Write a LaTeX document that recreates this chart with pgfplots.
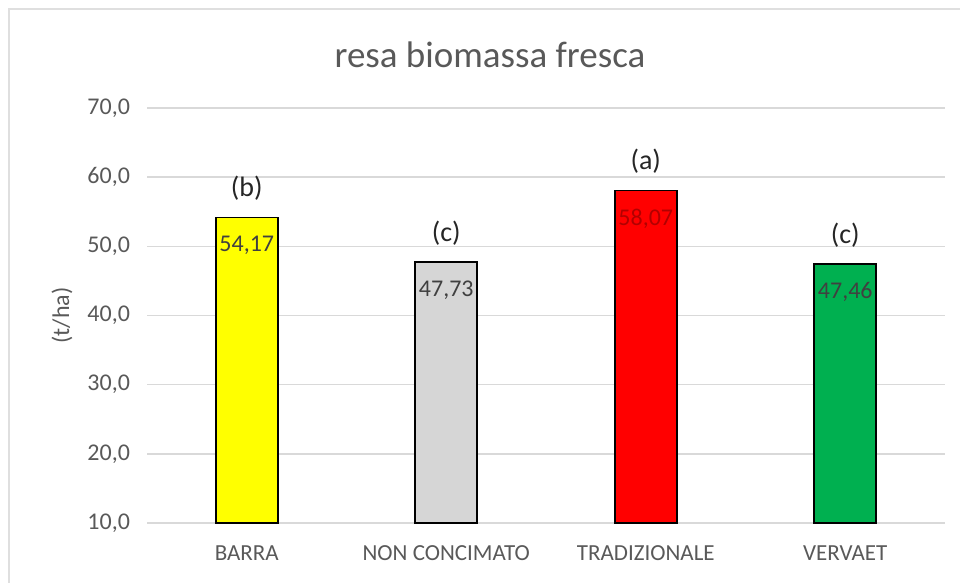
\documentclass[border=0pt]{standalone}
\usepackage{fontspec}
\setmainfont{Carlito}
\usepackage{pgfplots}
\pgfplotsset{compat=1.18}
\definecolor{txt}{HTML}{595959}
\definecolor{gridc}{HTML}{D9D9D9}
\definecolor{bgreen}{HTML}{00B050}
\definecolor{bgray}{HTML}{D6D6D6}
\definecolor{byellow}{HTML}{FFFF00}
\definecolor{bred}{HTML}{FF0000}
\definecolor{lab}{HTML}{404040}
\begin{document}
\begin{tikzpicture}
\useasboundingbox (0,0) rectangle (480pt,291.5pt);
\draw[gray!25, line width=1.2pt] (4.5pt,0) -- (4.5pt,287pt) -- (480pt,287pt);
\node[font=\fontsize{18.5}{22}\selectfont, text=txt] at (245pt,264pt) {resa biomassa fresca};
\begin{axis}[
  at={(73.5pt,30pt)}, anchor=south west, scale only axis,
  width=399pt, height=207.5pt,
  xmin=-0.5, xmax=3.5, ymin=10, ymax=70, ytick={10,20,...,70},
  xtick={0,1,2,3}, xticklabels={BARRA,NON CONCIMATO,TRADIZIONALE,VERVAET},
  ymajorgrids, major grid style={gridc, line width=0.7pt},
  axis line style={draw=none}, major tick length=0pt,
  yticklabel style={text=txt, font=\fontsize{12}{14}\selectfont, xshift=-5pt},
  xticklabel style={text=txt, font=\fontsize{11.5}{14}\selectfont, yshift=-8pt},
  /pgf/number format/.cd, assume math mode=true, use comma, fixed, fixed zerofill, precision=1,
  /pgfplots/.cd,
  ylabel={(t/ha)},
  ylabel style={text=txt, font=\fontsize{12}{14}\selectfont, at={(axis description cs:-0.1065,0.5)}, anchor=center},
  ybar, bar width=31pt,
  every node near coord/.append style={anchor=center, yshift=-14pt, text=lab, font=\fontsize{12}{14}\selectfont},
  clip=false,
]
\addplot[fill=byellow, draw=black, line width=0.9pt, bar shift=0pt, nodes near coords, point meta=explicit symbolic] coordinates {(0,54.17) [54,17]};
\addplot[fill=bgray, draw=black, line width=0.9pt, bar shift=0pt, nodes near coords, point meta=explicit symbolic] coordinates {(1,47.73) [47,73]};
\addplot[fill=bred, draw=black, line width=0.9pt, bar shift=0pt, nodes near coords, point meta=explicit symbolic, every node near coord/.append style={text=red!70!black}] coordinates {(2,58.07) [58,07]};
\addplot[fill=bgreen, draw=black, line width=0.9pt, bar shift=0pt, nodes near coords, point meta=explicit symbolic] coordinates {(3,47.46) [47,46]};
\node[font=\fontsize{14}{16}\selectfont, text=black!85, yshift=14.5pt] at (axis cs:0,54.17) {(b)};
\node[font=\fontsize{14}{16}\selectfont, text=black!85, yshift=14.5pt] at (axis cs:1,47.73) {(c)};
\node[font=\fontsize{14}{16}\selectfont, text=black!85, yshift=14.5pt] at (axis cs:2,58.07) {(a)};
\node[font=\fontsize{14}{16}\selectfont, text=black!85, yshift=14.5pt] at (axis cs:3,47.46) {(c)};
\end{axis}
\end{tikzpicture}
\end{document}
